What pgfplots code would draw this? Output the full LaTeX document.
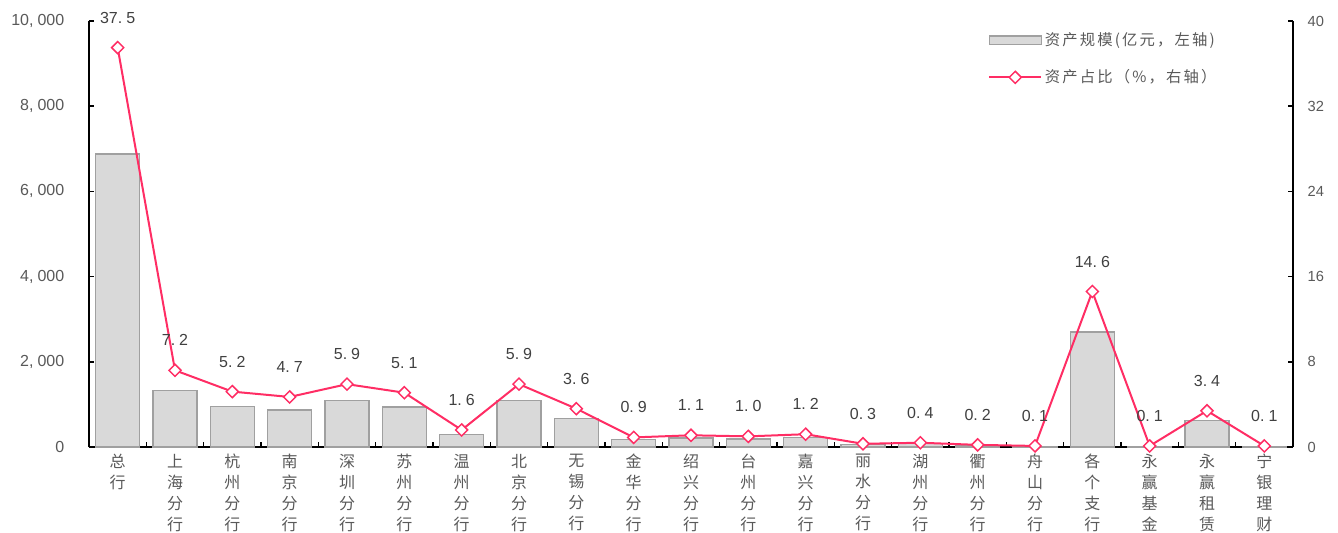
\documentclass[border=0pt]{standalone}
\usepackage{fontspec}
\setmainfont{Liberation Sans}
\newfontfamily\cjk{Noto Sans CJK SC}
\newfontfamily\cjkwide[LetterSpace=14]{Noto Sans CJK SC}
\usepackage{pgfplots}
\pgfplotsset{compat=1.18}

\definecolor{barfill}{HTML}{D9D9D9}
\definecolor{barline}{HTML}{A0A0A0}
\definecolor{ratio}{HTML}{FF2D64}
\definecolor{ticktext}{HTML}{595959}
\definecolor{valtext}{HTML}{404040}

\pgfplotsset{
  base/.style={
    at={(0,0)}, anchor=south west,
    width=903pt, height=319.5pt, scale only axis,
    xmin=-0.5, xmax=20.5, ymin=0,
    axis line style={-, black, line width=1.3pt},
    tick align=inside,
    tick style={black, line width=1.1pt},
    major tick length=3.75pt,
    minor tick length=3.75pt,
    /pgf/number format/assume math mode=true,
  },
  long line legend/.style={
    legend image code/.code={\draw[mark repeat=2, mark phase=2, ##1] plot coordinates {(0pt,0pt) (19.5pt,0pt) (39pt,0pt)};}
  },
  long bar legend/.style={
    legend image code/.code={\draw[fill=barfill, draw=barline, line width=0.9pt] (0pt,-3.2pt) rectangle (39pt,3.2pt);}
  },
}

\begin{document}
\begin{tikzpicture}
% left axis: asset size (100 million yuan)
\begin{axis}[base,
  ymax=10000,
  axis x line*=bottom, axis y line*=left,
  xtick={0,...,20},
  major x tick style={draw=none},
  minor xtick={0.5,1.5,...,19.5},
  xticklabels={{总\\行},{上\\海\\分\\行},{杭\\州\\分\\行},{南\\京\\分\\行},{深\\圳\\分\\行},{苏\\州\\分\\行},{温\\州\\分\\行},{北\\京\\分\\行},{无\\锡\\分\\行},{金\\华\\分\\行},{绍\\兴\\分\\行},{台\\州\\分\\行},{嘉\\兴\\分\\行},{丽\\水\\分\\行},{湖\\州\\分\\行},{衢\\州\\分\\行},{舟\\山\\分\\行},{各\\个\\支\\行},{永\\赢\\基\\金},{永\\赢\\租\\赁},{宁\\银\\理\\财}},
  xticklabel style={align=center, font=\cjk\fontsize{12}{15.75}\selectfont, text=ticktext, yshift=-2pt},
  ytick={0,2000,...,10000},
  scaled y ticks=false,
  yticklabel style={font=\fontsize{12}{14}\selectfont, text=ticktext, xshift=-15pt,
    /pgf/number format/1000 sep={,\hspace{3pt}}},
]
\addplot[ybar, bar width=0.77, bar shift=0pt, fill=barfill, draw=barline, line width=0.9pt]
  coordinates {
  (0,6880) (1,1330) (2,960) (3,870) (4,1090) (5,940) (6,300) (7,1090)
  (8,660) (9,170) (10,210) (11,190) (12,230) (13,55) (14,75) (15,40)
  (16,15) (17,2700) (18,15) (19,630) (20,15)
  };
\end{axis}
% right axis: share of assets (%)
\begin{axis}[base,
  ymax=40,
  axis x line=none, axis y line*=right,
  ytick={0,8,...,40},
  yticklabel style={font=\fontsize{11}{13}\selectfont, text=ticktext, xshift=7.5pt},
  clip=false,
  legend cell align=left,
  legend style={at={(0.7467,0.979)}, anchor=north west, draw=none, fill=none,
    inner sep=0pt, row sep=12.5pt,
    font=\cjkwide\fontsize{11.5}{13}\selectfont, text=ticktext},
]
\addlegendimage{long bar legend}
\addlegendentry{资产规模(亿元，左轴)}
\addplot[ratio, line width=1.5pt,
  mark=square*, mark size=3.2pt,
  mark options={rotate=45, fill=white, line width=1.1pt},
  point meta=y,
  nodes near coords={\pgfmathprintnumber[fixed,fixed zerofill,precision=1,set decimal separator={.\hspace{3pt}}]{\pgfplotspointmeta}},
  every node near coord/.append style={anchor=center, yshift=22.5pt, font=\fontsize{12}{14}\selectfont, text=valtext},
  long line legend,
] coordinates {
  (0,37.5) (1,7.2) (2,5.2) (3,4.7) (4,5.9) (5,5.1) (6,1.6) (7,5.9)
  (8,3.6) (9,0.9) (10,1.1) (11,1.0) (12,1.2) (13,0.3) (14,0.4) (15,0.2)
  (16,0.1) (17,14.6) (18,0.1) (19,3.4) (20,0.1)
  };
\addlegendentry{资产占比（\%，右轴）}
\end{axis}
\pgfresetboundingbox
\path[use as bounding box] (-66.75pt,-63.75pt) rectangle (936.75pt,335.25pt);
\end{tikzpicture}
\end{document}
